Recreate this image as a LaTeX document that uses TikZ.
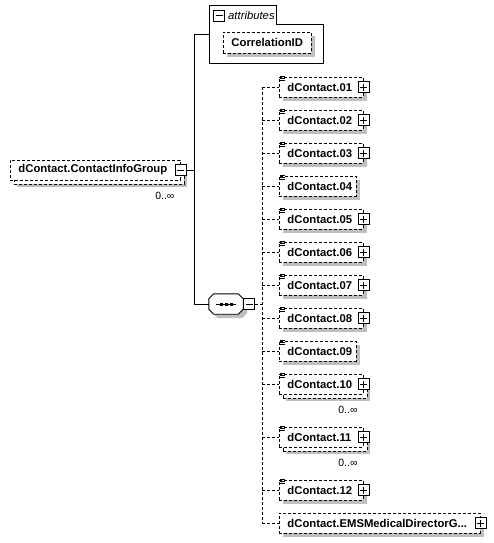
\documentclass[tikz,border=0pt]{standalone}
\usepackage{fontspec}
\setmainfont{Liberation Sans}
\usetikzlibrary{shadows}
\tikzset{
  dsh/.style={dash pattern=on 3pt off 2pt},
  conn/.style={line width=0.9pt},
  dconn/.style={conn, dsh},
  elem/.style={draw, dsh, line width=0.9pt, fill=white, anchor=west, minimum height=20,
    inner xsep=8pt, inner ysep=0pt, align=left, font=\bfseries\fontsize{11.3}{13}\selectfont},
  shade/.style={general shadow={fill=black!25, shadow xshift=4pt, shadow yshift=-4pt}},
  rep/.style={general shadow={fill=black!25, shadow xshift=7pt, shadow yshift=-7pt},
    general shadow={draw, dsh, line width=0.9pt, fill=white, shadow xshift=4pt, shadow yshift=-4pt}},
  pm/.style={draw, solid, fill=white, minimum size=11pt, inner sep=0pt, line width=1.1pt},
  plusbox/.style={pm, path picture={\draw[line width=1pt]
    ([xshift=2pt]path picture bounding box.west) -- ([xshift=-2pt]path picture bounding box.east)
    ([yshift=-2pt]path picture bounding box.north) -- ([yshift=2pt]path picture bounding box.south);}},
  minusbox/.style={pm, path picture={\draw[line width=1pt]
    ([xshift=2pt]path picture bounding box.west) -- ([xshift=-2pt]path picture bounding box.east);}},
  mult/.style={font=\fontsize{10.5}{12}\selectfont, inner sep=0pt}
}
\newcommand\childnode[5]{%
  \node[elem, #5, text width=#3pt] (#1) at (279,#2) {\mbox{#4}};
  \draw[dconn] (#1.west -| dv) -- (#1.west);}
\newcommand\plusof[1]{\node[plusbox] (#1p) at (#1.east) {};}
\newcommand\iconof[1]{\draw[line width=0.7pt]
  ([shift={(1,-0.3)}]#1.north west) -- ++(5,0)
  ([shift={(1,1.8)}]#1.north west) -- ++(5,0)
  ([shift={(1,3.9)}]#1.north west) -- ++(5,0);}
\begin{document}
\begin{tikzpicture}[x=1pt,y=-1pt]
\useasboundingbox (0,0) rectangle (494,543);
% root
\node[elem, rep, text width=154pt] (root) at (10,170) {\mbox{dContact.ContactInfoGroup}};
\node[minusbox] (rootm) at (root.east) {};
\node[mult] (rootmult) at ([shift={(-16,15)}]root.south east) {0..∞};
% trunk
\coordinate (vtop) at (194,34);
\coordinate (vbot) at (194,304);
\coordinate (dv) at (262,0);
\draw[conn] (rootm.east) -- (rootm.east -| vtop);
\draw[conn] (vtop) -- (vbot);
% attributes
\node[inner sep=0pt, minimum width=114pt, minimum height=58pt, anchor=north west] (attr) at (209,5) {};
\draw[conn] (attr.north west) -- ([xshift=67pt]attr.north west) -- ([shift={(67,19)}]attr.north west)
  -- ([yshift=-19pt]attr.north east) -- (attr.south east) -- (attr.south west) -- cycle;
\draw[conn] (vtop) -- (vtop -| attr.west);
\node[minusbox] (attrm) at (219,16) {};
\node[anchor=west, font=\itshape\fontsize{11.3}{13}\selectfont, inner sep=0pt] (attrt) at (228,15.5) {attributes};
\node[elem, shade, text width=72pt, minimum height=21] (corr) at (223,42.5) {\mbox{CorrelationID}};
% sequence
\node[inner sep=0pt, minimum width=34pt, minimum height=20pt] (seq) at (226,304) {};
\draw[conn, fill=white, shade] ([xshift=5pt]seq.north west) -- ([xshift=-5pt]seq.north east)
  -- ([yshift=-5pt]seq.north east) -- ([yshift=5pt]seq.south east) -- ([xshift=-5pt]seq.south east)
  -- ([xshift=5pt]seq.south west) -- ([yshift=5pt]seq.south west) -- ([yshift=-5pt]seq.north west) -- cycle;
\draw[conn] ([xshift=-10pt]seq.center) -- ([xshift=10pt]seq.center);
\foreach \dx in {-5,0,5}{\fill ([shift={(\dx-1.5,-1.5)}]seq.center) rectangle ++(3,3);}
\node[minusbox, anchor=west] (seqm) at (seq.east) {};
\draw[conn] (vbot) -- (seq.west);
\draw[dconn] (seqm.east) -- (seqm.east -| dv);
% children
\childnode{c01}{87}{68}{dContact.01}{shade}\plusof{c01}\iconof{c01}
\childnode{c02}{120}{68}{dContact.02}{shade}\plusof{c02}\iconof{c02}
\childnode{c03}{153}{68}{dContact.03}{shade}\plusof{c03}\iconof{c03}
\childnode{c04}{186}{61}{dContact.04}{shade}\iconof{c04}
\childnode{c05}{219}{68}{dContact.05}{shade}\plusof{c05}\iconof{c05}
\childnode{c06}{252}{68}{dContact.06}{shade}\plusof{c06}\iconof{c06}
\childnode{c07}{285}{68}{dContact.07}{shade}\plusof{c07}\iconof{c07}
\childnode{c08}{318}{68}{dContact.08}{shade}\plusof{c08}\iconof{c08}
\childnode{c09}{351}{61}{dContact.09}{shade}\iconof{c09}
\childnode{c10}{384}{68}{dContact.10}{rep}\plusof{c10}\iconof{c10}
\node[mult] (c10mult) at ([shift={(-16,15)}]c10.south east) {0..∞};
\childnode{c11}{437}{68}{dContact.11}{rep}\plusof{c11}\iconof{c11}
\node[mult] (c11mult) at ([shift={(-16,15)}]c11.south east) {0..∞};
\childnode{c12}{490}{68}{dContact.12}{shade}\plusof{c12}\iconof{c12}
\childnode{cems}{523}{185}{dContact.EMSMedicalDirectorG...}{shade}\plusof{cems}
\draw[dconn] (c01.west -| dv) -- (cems.west -| dv);
\end{tikzpicture}
\end{document}
